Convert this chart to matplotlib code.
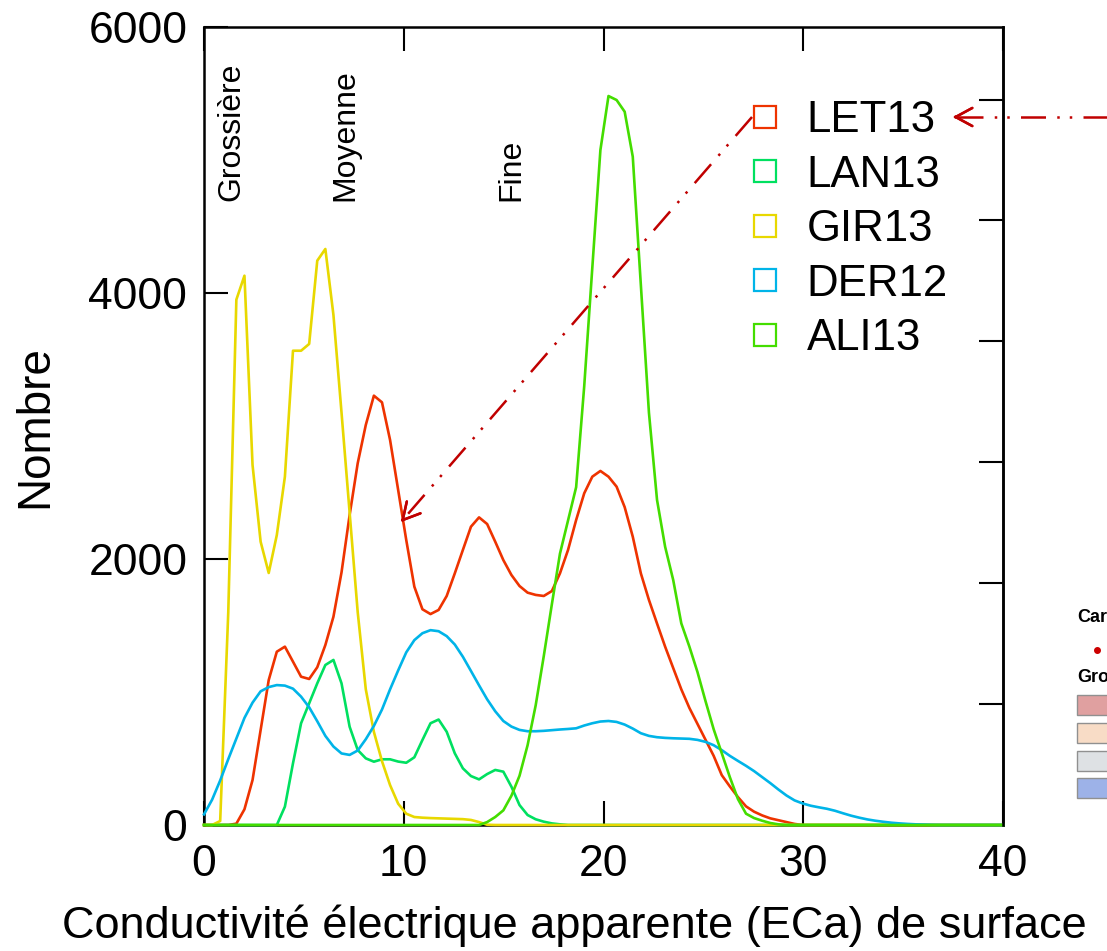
import numpy as np
import matplotlib
matplotlib.use("Agg")
import matplotlib.pyplot as plt
from matplotlib.lines import Line2D
from matplotlib.patches import Rectangle

plt.rcParams['font.family'] = ['Liberation Sans', 'DejaVu Sans']

# histogram bins (ECa), one value every 0.405 unit
bin_step = 0.405
n_bins = 100

let13 = [0, 0, 0, 0, 10, 118, 338, 714, 1090, 1303,
         1341, 1228, 1115, 1098, 1186, 1353, 1566, 1900, 2330, 2720,
         3008, 3228, 3178, 2895, 2519, 2143, 1792, 1622, 1586, 1617,
         1722, 1892, 2068, 2243, 2313, 2263, 2130, 1992, 1880, 1797,
         1747, 1730, 1722, 1759, 1892, 2068, 2293, 2494, 2619, 2662,
         2619, 2544, 2390, 2168, 1892, 1692, 1515, 1341, 1180, 1020,
         880, 760, 640, 520, 375, 290, 210, 140, 100, 72,
         50, 36, 22, 8, 0, 0, 0, 0, 0, 0,
         0, 0, 0, 0, 0, 0, 0, 0, 0, 0,
         0, 0, 0, 0, 0, 0, 0, 0, 0, 0]

lan13 = [0, 0, 0, 0, 0, 0, 0, 0, 0, 0,
         138, 464, 765, 915, 1065, 1203, 1241, 1065, 739, 564,
         501, 476, 494, 494, 477, 468, 509, 639, 765, 793,
         701, 539, 426, 368, 343, 383, 414, 401, 288, 150,
         75, 43, 25, 12, 5, 0, 0, 0, 0, 0,
         0, 0, 0, 0, 0, 0, 0, 0, 0, 0,
         0, 0, 0, 0, 0, 0, 0, 0, 0, 0,
         0, 0, 0, 0, 0, 0, 0, 0, 0, 0,
         0, 0, 0, 0, 0, 0, 0, 0, 0, 0,
         0, 0, 0, 0, 0, 0, 0, 0, 0, 0]

gir13 = [0, 0, 30, 1600, 3950, 4130, 2707, 2130, 1895, 2180,
         2619, 3566, 3566, 3617, 4243, 4331, 3835, 3100, 2350, 1600,
         1020, 700, 480, 300, 160, 85, 60, 55, 52, 50,
         48, 46, 44, 38, 22, 2, 0, 0, 0, 0,
         0, 0, 0, 0, 0, 0, 0, 0, 0, 0,
         0, 0, 0, 0, 0, 0, 0, 0, 0, 0,
         0, 0, 0, 0, 0, 0, 0, 0, 0, 0,
         0, 0, 0, 0, 0, 0, 0, 0, 0, 0,
         0, 0, 0, 0, 0, 0, 0, 0, 0, 0,
         0, 0, 0, 0, 0, 0, 0, 0, 0, 0]

der12 = [80, 190, 335, 495, 650, 805, 920, 1005, 1037, 1052,
         1048, 1025, 965, 885, 780, 670, 590, 538, 527, 560,
         645, 745, 868, 1020, 1162, 1298, 1390, 1442, 1465, 1457,
         1420, 1357, 1265, 1158, 1050, 945, 855, 782, 740, 715,
         705, 705, 708, 713, 718, 722, 727, 748, 765, 778,
         782, 775, 755, 725, 690, 670, 660, 655, 652, 650,
         648, 640, 625, 600, 563, 520, 482, 445, 405, 360,
         315, 267, 222, 185, 162, 145, 133, 122, 107, 88,
         70, 55, 42, 32, 24, 17, 12, 8, 5, 3,
         1, 0, 0, 0, 0, 0, 0, 0, 0, 0]

ali13 = [0, 0, 0, 0, 0, 0, 0, 0, 0, 0,
         0, 0, 0, 0, 0, 0, 0, 0, 0, 0,
         0, 0, 0, 0, 0, 0, 0, 0, 0, 0,
         0, 0, 0, 0, 0, 22, 60, 110, 220, 370,
         600, 900, 1270, 1660, 2040, 2290, 2540, 3300, 4190, 5075,
         5481, 5451, 5363, 5025, 4060, 3100, 2444, 2092, 1842, 1516,
         1341, 1150, 930, 720, 540, 360, 195, 85, 52, 32,
         15, 5, 0, 0, 0, 0, 0, 0, 0, 0,
         0, 0, 0, 0, 0, 0, 0, 0, 0, 0,
         0, 0, 0, 0, 0, 0, 0, 0, 0, 0]

names = ['LET13', 'LAN13', 'GIR13', 'DER12', 'ALI13']
series = [let13, lan13, gir13, der12, ali13]
colors = ['#ee3300', '#00e060', '#e8d800', '#00b4e8', '#44dd00']

classes = ['Grossière', 'Moyenne', 'Fine']
class_x = [1.39, 7.1, 15.4]

side_groups = ['#e0a0a0', '#f8dcc6', '#dee1e4', '#9db2e8']

W, H = 1107, 951
fig = plt.figure(figsize=(W / 100, H / 100), dpi=100)
ax = fig.add_axes([204 / W, 126 / H, 799 / W, 798 / H])

x = np.minimum(np.arange(n_bins) * bin_step, 40)
for name, vals, c in zip(names, series, colors):
    ax.plot(x, vals, color=c, lw=1.9, zorder=3, clip_on=False, label=name)

ax.set_xlim(0, 40)
ax.set_ylim(0, 6000)
ax.set_xticks([0, 10, 20, 30, 40])
ax.set_yticks([0, 2000, 4000, 6000])
ax.tick_params(axis='both', direction='in', length=17, width=1.5,
               labelsize=32, top=True, right=False)
ax.tick_params(axis='x', pad=14)
ax.tick_params(axis='y', pad=12)
for sp in ax.spines.values():
    sp.set_linewidth(1.8)

# right axis of the second panel (ticks only)
ax2 = ax.twinx()
ax2.set_ylim(0, 6.6)
ax2.set_yticks(range(1, 7))
ax2.tick_params(axis='y', direction='in', length=17, width=1.5, labelright=False)
for k in ['top', 'bottom', 'left']:
    ax2.spines[k].set_visible(False)
ax2.spines['right'].set_linewidth(1.8)

for lab, cx in zip(classes, class_x):
    ax.text(cx, 4690, lab, rotation=90, ha='center', va='bottom', fontsize=23)

handles = [Line2D([], [], ls='none', marker='s', markersize=16, mfc='none',
                  mec=c, mew=1.6) for c in colors]
ax.legend(handles, names, loc='upper left', bbox_to_anchor=(743 / W, 1 - 100 / H),
          bbox_transform=fig.transFigure, frameon=False, fontsize=31.5,
          handlelength=1.0, handletextpad=0.45, labelspacing=0.31,
          borderpad=0, borderaxespad=0)

fig.text(62 / W, 1 - 938 / H, 'Conductivité électrique apparente (ECa) de surface',
         fontsize=32.5, ha='left', va='baseline')
fig.text(35 / W, 1 - 427 / H, 'Nombre', fontsize=33, rotation=90,
         ha='center', va='center')

# arrows
arrow_col = '#c00000'
dash = (0, (10, 4.5, 1, 4, 1, 4.5))


def dashed_arrow(p0, p1):
    x0, y0 = p0[0] / W, 1 - p0[1] / H
    x1, y1 = p1[0] / W, 1 - p1[1] / H
    fig.add_artist(Line2D([x0, x1], [y0, y1], transform=fig.transFigure,
                          color=arrow_col, lw=1.8, ls=dash))
    dx, dy = (p1[0] - p0[0]), (p1[1] - p0[1])
    d = np.hypot(dx, dy)
    back = (p1[0] - 3 * dx / d, p1[1] - 3 * dy / d)
    fig.add_artist(plt.annotate('', xy=(x1, y1), xycoords='figure fraction',
                                xytext=(back[0] / W, 1 - back[1] / H),
                                textcoords='figure fraction',
                                arrowprops=dict(arrowstyle='->,head_length=1.2,head_width=0.65',
                                                color=arrow_col, lw=1.8,
                                                shrinkA=0, shrinkB=0)))


dashed_arrow((752, 117), (401, 522))
dashed_arrow((1110, 117), (953, 117))

# side legend of the neighbouring map (cut by the frame)
fig.text(1077 / W, 1 - 617 / H, 'Car', fontsize=13, fontweight='bold', va='center')
fig.add_artist(Line2D([1097 / W], [1 - 650 / H], transform=fig.transFigure,
                      marker='o', markersize=4, color='#cc0000', ls='none'))
fig.text(1077 / W, 1 - 678 / H, 'Gro', fontsize=13, fontweight='bold', va='center')
for i, c in enumerate(side_groups):
    top = [695, 723, 751, 778][i]
    fig.add_artist(Rectangle((1077 / W, 1 - (top + 20) / H), 60 / W, 20 / H,
                             transform=fig.transFigure, facecolor=c,
                             edgecolor='#909090', lw=1))

fig.savefig('out.png', dpi=100)
